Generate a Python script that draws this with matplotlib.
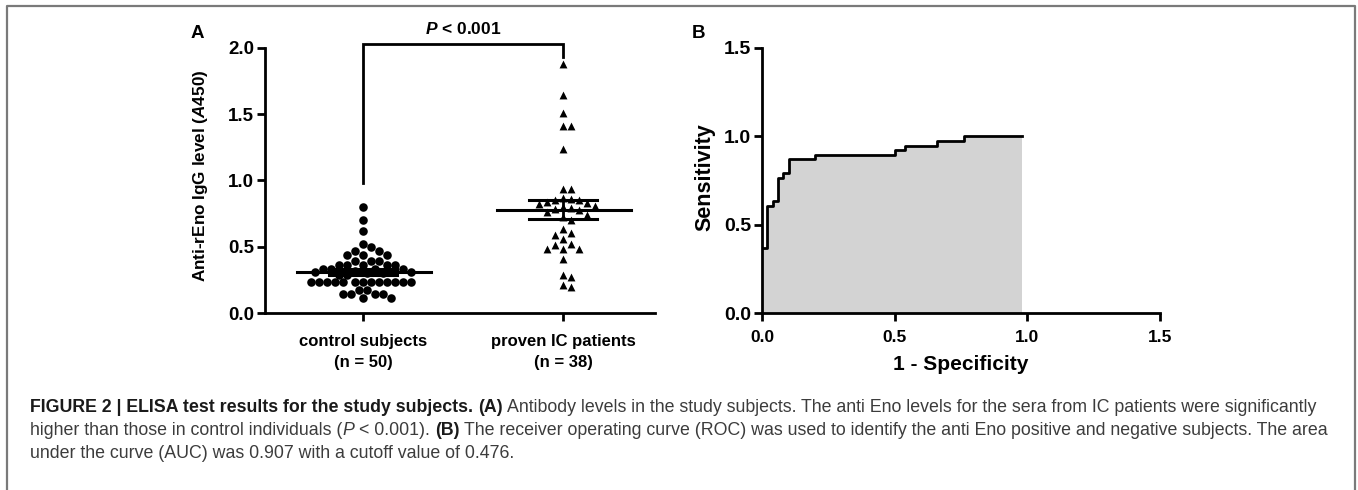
import numpy as np
import matplotlib
matplotlib.use("Agg")
import matplotlib.pyplot as plt
from matplotlib.lines import Line2D
from matplotlib import font_manager

plt.rcParams['font.family'] = ['Liberation Sans', 'DejaVu Sans']
plt.rcParams['mathtext.fontset'] = 'custom'
plt.rcParams['mathtext.rm'] = 'Liberation Sans:bold'
plt.rcParams['mathtext.it'] = 'Liberation Sans:italic:bold'
plt.rcParams['mathtext.bf'] = 'Liberation Sans:bold'

_names = {f.name for f in font_manager.fontManager.ttflist}
NARROW = 'Liberation Sans Narrow' if 'Liberation Sans Narrow' in _names else 'Liberation Sans'

# ---------------- data ----------------
group_labels = ["control subjects\n(n = 50)", "proven IC patients\n(n = 38)"]
control_values = [0.80, 0.70, 0.62, 0.52, 0.50, 0.47, 0.47, 0.44, 0.44, 0.44,
                  0.39, 0.39, 0.39, 0.36, 0.36, 0.36, 0.36, 0.36,
                  0.33, 0.33, 0.33, 0.33, 0.32, 0.31, 0.31, 0.30, 0.30, 0.29, 0.29,
                  0.23, 0.23, 0.23, 0.23, 0.23, 0.23, 0.23, 0.23, 0.23, 0.23, 0.23, 0.23, 0.23,
                  0.17, 0.17, 0.14, 0.14, 0.14, 0.14, 0.11, 0.11]
patient_values = [1.875, 1.64, 1.505, 1.41, 1.41, 1.24, 0.935, 0.935,
                  0.87, 0.86, 0.85, 0.85, 0.84, 0.83, 0.82, 0.81, 0.80, 0.79, 0.785, 0.775,
                  0.76, 0.74, 0.72, 0.70,
                  0.63, 0.60, 0.59, 0.56, 0.52, 0.51, 0.48, 0.48, 0.48, 0.41, 0.29, 0.27, 0.21, 0.195]
group_means = [0.31, 0.78]
group_sems = [0.02, 0.07]
p_text = "$\\mathit{P}$ < 0.001"
yticks_A = [0.0, 0.5, 1.0, 1.5, 2.0]

roc_fpr = [0.00, 0.02, 0.04, 0.06, 0.08, 0.10, 0.20, 0.50, 0.54, 0.66, 0.76, 0.98]
roc_tpr = [0.368, 0.605, 0.632, 0.763, 0.789, 0.868, 0.895, 0.921, 0.947, 0.974, 1.0, 1.0]
ticks_B = [0.0, 0.5, 1.0, 1.5]

caption_lines = [
    [("FIGURE 2 | ELISA test results for the study subjects.", 'b', False),
     ("(A)", 'b', True),
     ("Antibody levels in the study subjects. The anti Eno levels for the sera from IC patients were significantly", 'n', True)],
    [("higher than those in control individuals (", 'n', False),
     ("P", 'i', False),
     ("< 0.001).", 'n', True),
     ("(B)", 'b', True),
     ("The receiver operating curve (ROC) was used to identify the anti Eno positive and negative subjects. The area", 'n', True)],
    [("under the curve (AUC) was 0.907 with a cutoff value of 0.476.", 'n', False)],
]

# ---------------- figure ----------------
W, H = 1358, 490
fig = plt.figure(figsize=(W / 100, H / 100), dpi=100)
fig.patch.set_facecolor('white')


def fx(px):
    return px / W


def fy(py):
    return 1 - py / H


# border frame
frame_col = '#7a7a7a'
fig.add_artist(Line2D([fx(7), fx(7), fx(1355), fx(1355)], [0, fy(6), fy(6), 0],
                      color=frame_col, lw=1.6, transform=fig.transFigure))

TOP, BOT = 47.7, 313

# ---------------- panel A ----------------
axA = fig.add_axes([fx(265), fy(BOT), fx(655) - fx(265), fy(TOP) - fy(BOT)])
axA.set_xlim(0.51, 2.46)
axA.set_ylim(0, 2.0)
for s in ['top', 'right']:
    axA.spines[s].set_visible(False)
for s in ['left', 'bottom']:
    axA.spines[s].set_linewidth(2)
axA.set_yticks(yticks_A)
axA.set_yticklabels([f"{v:.1f}" for v in yticks_A], fontsize=13.5, fontweight='bold')
axA.set_xticks([1, 2])
axA.set_xticklabels(group_labels, fontsize=12, fontweight='bold', family=NARROW,
                    linespacing=1.55)
axA.tick_params(axis='both', direction='out', length=6, width=2)
axA.tick_params(axis='x', pad=9)
axA.tick_params(axis='y', pad=2)


def swarm_offsets(ax, xc, values, d=8.0, step=4.0):
    trans = ax.transData
    px_per_unit = trans.transform((1, 0))[0] - trans.transform((0, 0))[0]
    placed = []
    offs = np.zeros(len(values))
    order = np.argsort(-np.asarray(values), kind='stable')
    cands = [0.0]
    for j in range(1, 60):
        cands += [j * step, -j * step]
    for i in order:
        y = trans.transform((xc, values[i]))[1]
        for off in cands:
            if all((off - px) ** 2 + (y - py) ** 2 >= d * d for px, py in placed):
                break
        placed.append((off, y))
        offs[i] = off
    return xc + offs / px_per_unit


xc = swarm_offsets(axA, 1, control_values)
xp = swarm_offsets(axA, 2, patient_values)
axA.scatter(xc, control_values, s=38, marker='o', color='black', linewidths=0, zorder=3, clip_on=False)
axA.scatter(xp, patient_values, s=32, marker='^', color='black', linewidths=0, zorder=3, clip_on=False)

for i, (m, se) in enumerate(zip(group_means, group_sems)):
    x0 = i + 1
    axA.plot([x0 - 0.33, x0 + 0.34], [m, m], color='black', lw=2.2, zorder=4)
    axA.plot([x0, x0], [m - se, m + se], color='black', lw=2, zorder=4)
    for v in (m - se, m + se):
        axA.plot([x0 - 0.17, x0 + 0.17], [v, v], color='black', lw=2.2, zorder=4)

# significance bracket
axA.plot([1, 1, 2, 2], [0.98, 2.03, 2.03, 1.93], color='black', lw=2, clip_on=False,
         solid_joinstyle='miter')
axA.text(1.5, 2.14, p_text, ha='center', va='center', fontsize=12.5, fontweight='bold')

fig.text(fx(197), fy(33), "A", fontsize=13.5, fontweight='bold', ha='center', va='center')
fig.text(fx(200), fy(176), "Anti-rEno IgG level ($\\mathit{A}$450)", rotation=90,
         fontsize=12.3, fontweight='bold', ha='center', va='center')

# ---------------- panel B ----------------
axB = fig.add_axes([fx(762), fy(BOT), fx(1160) - fx(762), fy(TOP) - fy(BOT)])
axB.set_xlim(0, 1.5)
axB.set_ylim(0, 1.5)
for s in ['top', 'right']:
    axB.spines[s].set_visible(False)
for s in ['left', 'bottom']:
    axB.spines[s].set_linewidth(2)
axB.fill_between(roc_fpr, roc_tpr, 0, step='post', color='#d3d3d3', linewidth=0, zorder=1)
axB.step(roc_fpr, roc_tpr, where='post', color='black', lw=2, zorder=2)
axB.set_xticks(ticks_B)
axB.set_yticks(ticks_B)
axB.set_xticklabels([f"{v:.1f}" for v in ticks_B], fontsize=12.5, fontweight='bold', family=NARROW)
axB.set_yticklabels([f"{v:.1f}" for v in ticks_B], fontsize=14, fontweight='bold')
axB.tick_params(axis='both', direction='out', length=6, width=2)
axB.tick_params(axis='x', pad=6)
axB.tick_params(axis='y', pad=2)

fig.text(fx(699), fy(33), "B", fontsize=13.5, fontweight='bold', ha='center', va='center')
fig.text(fx(705), fy(177), "Sensitivity", rotation=90, fontsize=15.5, fontweight='bold',
         ha='center', va='center')
fig.text(fx(961), fy(364), "1 - Specificity", fontsize=15, fontweight='bold',
         family=NARROW, ha='center', va='center')

# ---------------- caption ----------------
renderer = fig.canvas.get_renderer()
CAP_X0, CAP_X1 = 30, 1333
cap_bold_col = '#1a1a1a'
cap_col = '#3c3c3c'


def text_width(s, size, weight='normal', style='normal'):
    t = fig.text(0, 0, s, fontsize=size, fontweight=weight, fontstyle=style)
    w = t.get_window_extent(renderer).width
    t.remove()
    return w


def draw_line(pieces, y_px, size, draw=True):
    x = CAP_X0
    space = text_width("a a", size) - text_width("aa", size)
    for txt, kind, gap in pieces:
        if gap:
            x += space
        weight = 'bold' if kind == 'b' else 'normal'
        style = 'italic' if kind == 'i' else 'normal'
        col = cap_bold_col if kind == 'b' else cap_col
        if draw:
            t = fig.text(fx(x), fy(y_px), txt, fontsize=size, fontweight=weight,
                         fontstyle=style, color=col, ha='left', va='baseline')
            x += t.get_window_extent(renderer).width
        else:
            x += text_width(txt, size, weight, style)
    return x


size0 = 10.5
end0 = draw_line(caption_lines[0], 0, size0, draw=False)
cap_size = size0 * (CAP_X1 - CAP_X0) / (end0 - CAP_X0)
for line, yb in zip(caption_lines, [412, 435, 458]):
    draw_line(line, yb, cap_size)

fig.savefig("out.png", dpi=100, facecolor='white')
